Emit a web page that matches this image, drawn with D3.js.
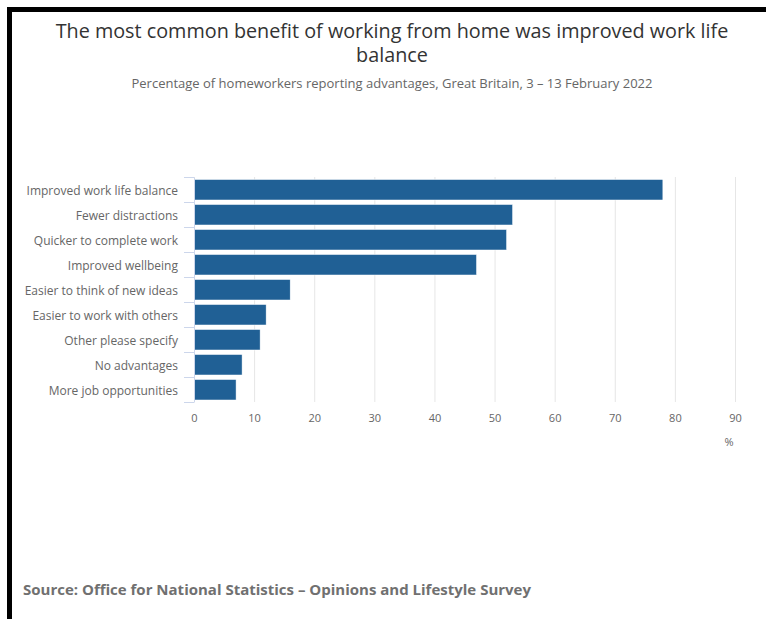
<!DOCTYPE html>
<html>
<head>
<meta charset="utf-8">
<script src="https://cdn.jsdelivr.net/npm/d3@7"></script>
<style>
  html, body { margin: 0; padding: 0; background: #fff; }
  svg { display: block; font-family: "Open Sans", sans-serif; }
</style>
</head>
<body>
<svg id="chart" width="766" height="619"></svg>
<script>
const categories = [
  "Improved work life balance",
  "Fewer distractions",
  "Quicker to complete work",
  "Improved wellbeing",
  "Easier to think of new ideas",
  "Easier to work with others",
  "Other please specify",
  "No advantages",
  "More job opportunities"
];
const values = [78, 53, 52, 47, 16, 12, 11, 8, 7];
const xTicks = [0, 10, 20, 30, 40, 50, 60, 70, 80, 90];

const titleLines = ["The most common benefit of working from home was improved work life", "balance"];
const subtitle = "Percentage of homeworkers reporting advantages, Great Britain, 3 \u2013 13 February 2022";
const source = "Source: Office for National Statistics \u2013 Opinions and Lifestyle Survey";
const unitLabel = "%";

const svg = d3.select("#chart");

// frame borders
svg.append("rect").attr("x", 7).attr("y", 7).attr("width", 759).attr("height", 5).attr("fill", "#000");
svg.append("rect").attr("x", 7).attr("y", 7).attr("width", 5).attr("height", 612).attr("fill", "#000");

// titles
svg.selectAll("text.title").data(titleLines).join("text")
  .attr("class", "title")
  .attr("x", 392).attr("y", (d, i) => 38 + i * 24)
  .attr("text-anchor", "middle")
  .attr("font-size", 19.8).attr("fill", "#333333")
  .text(d => d);

svg.append("text")
  .attr("x", 392).attr("y", 88)
  .attr("text-anchor", "middle")
  .attr("font-size", 13).attr("fill", "#666666")
  .text(subtitle);

const x = d3.scaleLinear().domain([0, 90]).range([194, 735]);
const y = d3.scaleBand().domain(categories).range([177, 402]).paddingInner(0.2).paddingOuter(0.1);

// gridlines
svg.append("g").selectAll("line").data(xTicks).join("line")
  .attr("x1", d => x(d) + 0.5).attr("x2", d => x(d) + 0.5)
  .attr("y1", 177).attr("y2", 402)
  .attr("stroke", "#e6e6e6").attr("stroke-width", 1);

// bars
svg.append("g").selectAll("rect").data(values).join("rect")
  .attr("x", x(0))
  .attr("y", (d, i) => y(categories[i]))
  .attr("width", d => x(d) - x(0))
  .attr("height", y.bandwidth() + 0.5)
  .attr("fill", "#206095")
  .attr("stroke", "#ffffff").attr("stroke-width", 0.5);

// category axis
const yAxis = d3.axisLeft(y).tickSize(0).tickPadding(16);
const gy = svg.append("g").attr("transform", `translate(${x(0)},0)`).call(yAxis);
gy.select(".domain").attr("stroke", "#ccd6eb");
gy.selectAll("text").attr("font-size", 12).attr("fill", "#666666")
  .attr("font-family", "Open Sans, sans-serif").attr("dy", "0.42em");

// band boundary ticks
const bounds = d3.range(categories.length + 1).map(i => 177 + i * y.step());
svg.append("g").selectAll("line").data(bounds).join("line")
  .attr("x1", x(0) - 10).attr("x2", x(0))
  .attr("y1", d => d + 0.5).attr("y2", d => d + 0.5)
  .attr("stroke", "#ccd6eb");

// value axis
const xAxis = d3.axisBottom(x).tickValues(xTicks).tickSize(0).tickPadding(12);
const gx = svg.append("g").attr("transform", "translate(0,402)").call(xAxis);
gx.select(".domain").remove();
gx.selectAll("text").attr("font-size", 11).attr("fill", "#666666").attr("font-family", "Open Sans, sans-serif");

svg.append("text")
  .attr("x", 729).attr("y", 446)
  .attr("text-anchor", "middle")
  .attr("font-size", 11).attr("fill", "#666666")
  .text(unitLabel);

svg.append("text")
  .attr("x", 23).attr("y", 595)
  .attr("font-size", 15).attr("font-weight", "bold").attr("fill", "#707070")
  .text(source);
</script>
</body>
</html>
